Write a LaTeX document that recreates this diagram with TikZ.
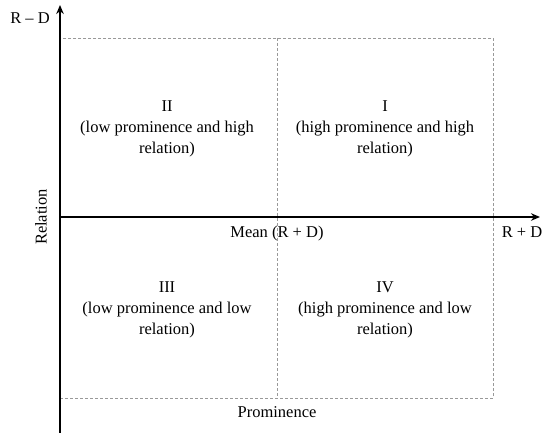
\documentclass[tikz,border=0pt]{standalone}
\usepackage{fontspec}
\setmainfont{Liberation Serif}
\usetikzlibrary{arrows.meta}
\begin{document}
\begin{tikzpicture}[x=1pt,y=-1pt,
  axis/.style={line width=2.8pt,-{Stealth[length=9pt,width=7.5pt]}},
  grid/.style={gray!80,line width=0.6pt,dash pattern=on 3pt off 2pt},
  lbl/.style={font=\fontsize{16.5}{21}\selectfont,inner sep=0pt},
  quad/.style={lbl,align=center}]
\useasboundingbox[fill=white] (0,0) rectangle (551,433);
% quadrant grid
\coordinate (tl) at (60,38);
\coordinate (br) at (493,398);
\draw[grid] (tl) rectangle (br);
\coordinate (mt) at (277,38);
\coordinate (mb) at (277,398);
\draw[grid] (mt) -- (mb);
% axes
\coordinate (o) at (60,433);
\coordinate (ytip) at (60,5);
\coordinate (xl) at (59,217);
\coordinate (xtip) at (540,217);
\draw[axis] (o) -- (ytip);
\draw[axis] (xl) -- (xtip);
% axis labels
\node[lbl] (rmd) at (30,18) {R – D};
\node[lbl] (rpd) at (522,232) {R + D};
\node[lbl] (mean) at (277,234) {Mean (R + D)};
\node[lbl] (prom) at (277,412) {Prominence};
\node[lbl,rotate=90] (rel) at (41,217) {Relation};
% quadrants
\node[quad] (q2) at (167,129) {II\\(low prominence and high\\relation)};
\node[quad] (q1) at (385,129) {I\\(high prominence and high\\relation)};
\node[quad] (q3) at (167,310) {III\\(low prominence and low\\relation)};
\node[quad] (q4) at (385,310) {IV\\(high prominence and low\\relation)};
\end{tikzpicture}
\end{document}
